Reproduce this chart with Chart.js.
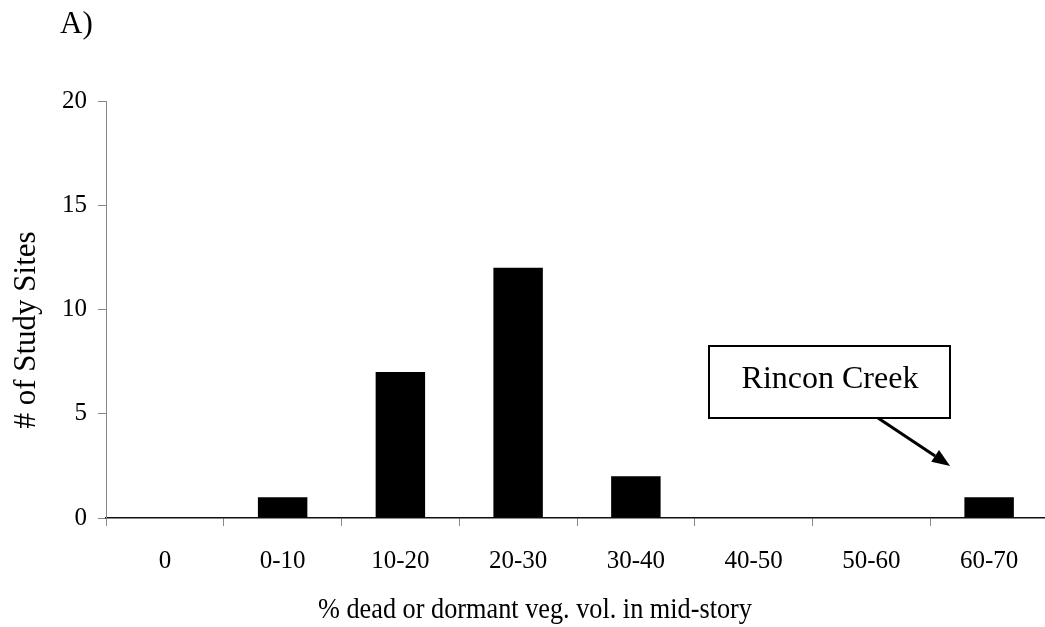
<!DOCTYPE html>
<html><head><meta charset="utf-8">
<script src="https://cdn.jsdelivr.net/npm/chart.js@4.4.1/dist/chart.umd.min.js"></script>
<style>
html,body{margin:0;padding:0;overflow:hidden;background:#fff;width:1045px;height:627px}
#wrap{position:absolute;left:0;top:0;width:1048px;height:627px}
canvas{display:block}
</style>
</head><body><div id="wrap"><canvas id="c" width="1048" height="627" style="width:1048px;height:627px"></canvas></div>
<script>
const categories = ['0','0-10','10-20','20-30','30-40','40-50','50-60','60-70'];
const siteCounts = [0, 1, 7, 12, 2, 0, 0, 1];
const yTicks = [0, 5, 10, 15, 20];
const xTitle = '% dead or dormant veg. vol. in mid-story';
const yTitle = '# of Study Sites';
const panelLabel = 'A)';
const calloutText = 'Rincon Creek';
const calloutIndex = 7;

const FONT = "'Liberation Serif', 'Times New Roman', serif";

const extras = {
  id: 'extras',
  afterDraw(chart) {
    const ctx = chart.ctx;
    const xs = chart.scales.x, ys = chart.scales.y;
    ctx.save();
    ctx.fillStyle = '#000';
    // panel label
    ctx.font = '31px ' + FONT;
    ctx.textAlign = 'left';
    ctx.textBaseline = 'alphabetic';
    ctx.fillText(panelLabel, 60, 33);
    // x title
    ctx.font = '30px ' + FONT;
    ctx.textAlign = 'center';
    ctx.fillText(xTitle, 535, 618, 434);
    // y title
    ctx.save();
    ctx.translate(35, 330);
    ctx.rotate(-Math.PI / 2);
    ctx.font = '31px ' + FONT;
    ctx.textAlign = 'center';
    ctx.textBaseline = 'alphabetic';
    ctx.fillText(yTitle, 0, 0);
    ctx.restore();
    // callout box
    const bx = 709, by = 346, bw = 241, bh = 72;
    ctx.fillStyle = '#fff';
    ctx.fillRect(bx, by, bw, bh);
    ctx.lineWidth = 2;
    ctx.strokeStyle = '#000';
    ctx.strokeRect(bx, by, bw, bh);
    ctx.fillStyle = '#000';
    ctx.font = '32px ' + FONT;
    ctx.textAlign = 'center';
    ctx.textBaseline = 'alphabetic';
    ctx.fillText(calloutText, 830, 388);
    // arrow
    const sx = 878, sy = 418;
    const tx = xs.getPixelForValue(calloutIndex) - 39;
    const ty = ys.getPixelForValue(siteCounts[calloutIndex] + 1.5);
    const ang = Math.atan2(ty - sy, tx - sx);
    const hl = 18, hw = 7;
    const bxp = tx - hl * Math.cos(ang), byp = ty - hl * Math.sin(ang);
    ctx.lineWidth = 3;
    ctx.beginPath();
    ctx.moveTo(sx, sy);
    ctx.lineTo(bxp, byp);
    ctx.stroke();
    ctx.beginPath();
    ctx.moveTo(tx, ty);
    ctx.lineTo(bxp + hw * Math.sin(ang), byp - hw * Math.cos(ang));
    ctx.lineTo(bxp - hw * Math.sin(ang), byp + hw * Math.cos(ang));
    ctx.closePath();
    ctx.fill();
    ctx.restore();
  }
};

new Chart(document.getElementById('c'), {
  type: 'bar',
  data: {
    labels: categories,
    datasets: [{
      data: siteCounts,
      backgroundColor: '#000',
      borderColor: '#000',
      borderWidth: 0,
      barPercentage: 0.42,
      categoryPercentage: 1
    }]
  },
  options: {
    responsive: false,
    animation: false,
    events: [],
    layout: { padding: { top: 101, left: 0, right: 0, bottom: 0 } },
    plugins: { legend: { display: false }, tooltip: { enabled: false }, title: { display: false } },
    scales: {
      x: {
        offset: true,
        grid: { offset: true, drawOnChartArea: false, drawTicks: true, tickLength: 8, color: '#888', lineWidth: 1 },
        border: { display: true, color: '#111', width: 1.5 },
        ticks: { color: '#000', font: { family: FONT, size: 25 }, padding: 20, maxRotation: 0, autoSkip: false },
        afterFit(s) { s.height = 109; }
      },
      y: {
        min: 0, max: 20,
        afterBuildTicks(s) { s.ticks = yTicks.map(v => ({ value: v })); },
        grid: { drawOnChartArea: false, drawTicks: true, tickLength: 8, color: '#888', lineWidth: 1 },
        border: { display: true, color: '#888', width: 1 },
        ticks: { color: '#000', font: { family: FONT, size: 25 }, padding: 11 },
        afterFit(s) { s.width = 106; }
      }
    }
  },
  plugins: [extras]
});
</script>
</body></html>
